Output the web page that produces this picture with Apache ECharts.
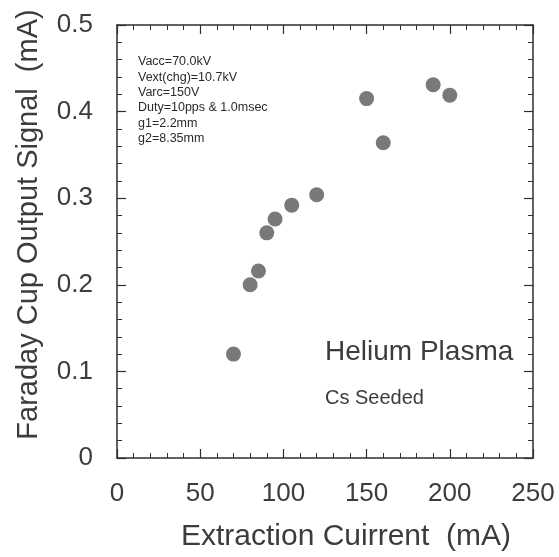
<!DOCTYPE html>
<html>
<head>
<meta charset="utf-8">
<script src="https://cdn.jsdelivr.net/npm/echarts@6/dist/echarts.min.js"></script>
<style>
  html, body { margin: 0; padding: 0; background: #fff; }
  #chart { width: 559px; height: 557px; }
</style>
</head>
<body>
<div id="chart"></div>
<script>
// extraction current (mA)
const currents = [70, 80, 85, 90, 95, 105, 120, 150, 160, 190, 200];
// faraday cup output signal (mA)
const signals = [0.120, 0.200, 0.216, 0.260, 0.276, 0.292, 0.304, 0.415, 0.364, 0.431, 0.419];

const conditions = [
  "Vacc=70.0kV",
  "Vext(chg)=10.7kV",
  "Varc=150V",
  "Duty=10pps & 1.0msec",
  "g1=2.2mm",
  "g2=8.35mm"
];

const textColor = "#3c3c3c";
const lineColor = "#2e2e2e";

let chart = echarts.init(document.getElementById("chart"));

const baseTick = {
  axisLine: { show: true, onZero: false, lineStyle: { color: lineColor, width: 1.5 } },
  axisTick: { show: true, inside: true, length: 9, lineStyle: { color: lineColor, width: 1.2 } },
  minorTick: { show: true, splitNumber: 5, length: 5, lineStyle: { color: lineColor, width: 1 } },
  splitLine: { show: false }
};

let option = {
  animation: false,
  backgroundColor: "#fff",
  grid: { left: 117, right: 26, top: 25, bottom: 97 },
  xAxis: [
    Object.assign({
      type: "value", min: 0, max: 250, interval: 50,
      name: "Extraction Cuirrent  (mA)",
      nameLocation: "middle", nameGap: 64,
      nameTextStyle: { fontFamily: "Liberation Sans", fontSize: 30, color: textColor, padding: [0, 0, 0, 42] },
      axisLabel: { margin: 23, fontFamily: "Liberation Sans", fontSize: 26, color: textColor }
    }, baseTick),
    Object.assign({
      type: "value", min: 0, max: 250, interval: 50, position: "top",
      axisLabel: { show: false }
    }, baseTick)
  ],
  yAxis: [
    Object.assign({
      type: "value", min: 0, max: 0.5, interval: 0.1,
      name: "Faraday Cup Output Signal  (mA)",
      nameLocation: "middle", nameGap: 74,
      nameTextStyle: { fontFamily: "Liberation Sans", fontSize: 29, color: textColor, padding: [0, 0, 0, 34] },
      axisLabel: { margin: 24, fontFamily: "Liberation Sans", fontSize: 26, color: textColor }
    }, baseTick),
    Object.assign({
      type: "value", min: 0, max: 0.5, interval: 0.1, position: "right",
      axisLabel: { show: false }
    }, baseTick)
  ],
  series: [
    {
      type: "scatter",
      symbol: "circle",
      symbolSize: 15,
      itemStyle: { color: "#585858" },
      data: currents.map((c, i) => [c, signals[i]])
    }
  ],
  graphic: [
    {
      type: "text", left: 138, top: 54,
      style: {
        text: conditions.join("\n"),
        font: "12.5px 'Liberation Sans'",
        lineHeight: 15.4,
        fill: "#2a2a2a"
      }
    },
    {
      type: "text", left: 325, top: 338,
      style: { text: "Helium Plasma", font: "28px 'Liberation Sans'", fill: textColor }
    },
    {
      type: "text", left: 325, top: 388,
      style: { text: "Cs Seeded", font: "20px 'Liberation Sans'", fill: textColor }
    }
  ]
};

chart.setOption(option);
</script>
</body>
</html>
